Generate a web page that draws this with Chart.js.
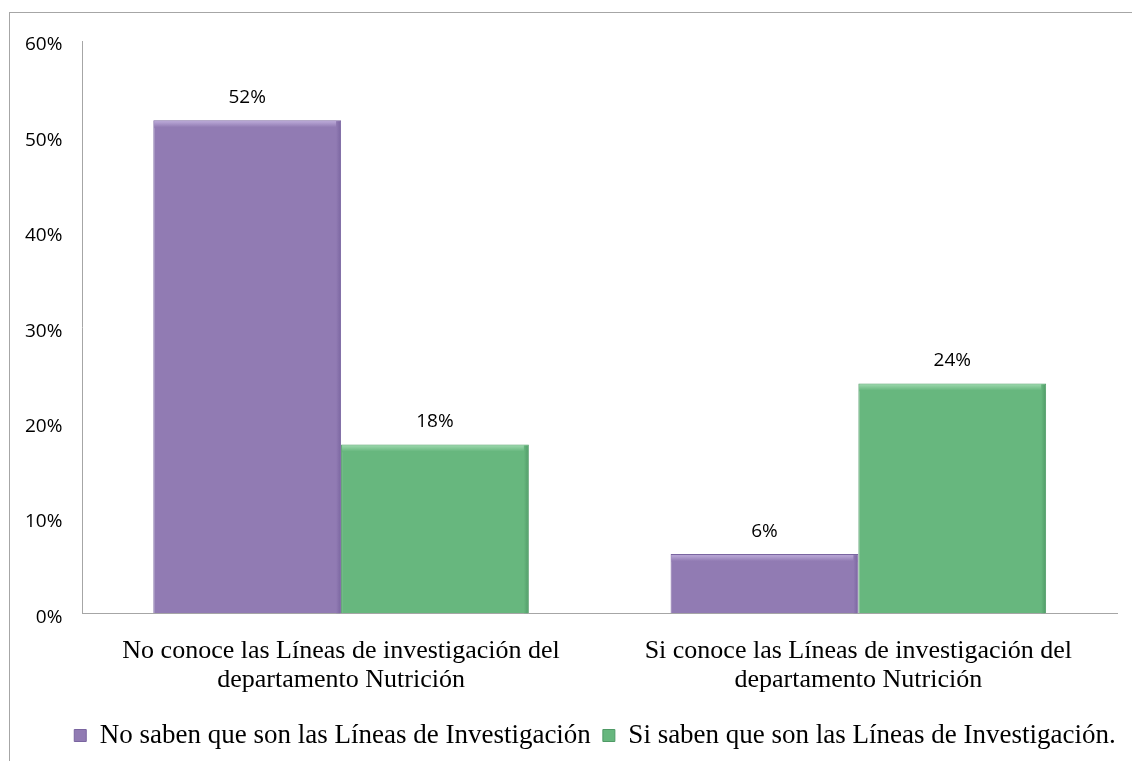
<!DOCTYPE html>
<html>
<head>
<meta charset="utf-8">
<script src="https://cdn.jsdelivr.net/npm/chart.js@4"></script>
<style>
  body { margin: 0; background: #fff; }
  .wrap { position: relative; width: 1132px; height: 761px; }
  .frame { position: absolute; left: 9px; top: 12px; width: 1140px; height: 800px;
           border-left: 1px solid #a6a6a6; border-top: 1px solid #a6a6a6; pointer-events: none; }
</style>
</head>
<body>
<div class="wrap">
  <canvas id="myChart" width="1132" height="761"></canvas>
  <div class="frame"></div>
</div>
<script>
const categories = [
    ['No conoce las Líneas de investigación del', 'departamento Nutrición'],
    ['Si conoce las Líneas de investigación del', 'departamento Nutrición']
];
const seriesNames = ['No saben que son las Líneas de Investigación', 'Si saben que son las Líneas de Investigación.'];
const noSaben = [51.7, 6.2];
const siSaben = [17.7, 24.1];
const yTicks = [0, 10, 20, 30, 40, 50, 60];

const fills = ['#917bb3', '#67b77e'];
const lights = ['#c2b1de', '#a3dcb3'];
const darks = ['#7a65a0', '#4f9a66'];

// bevel look: light strip on top, dark strip on the right
const bevel = {
    id: 'bevel',
    afterDatasetsDraw(chart) {
        const c = chart.ctx;
        c.save();
        chart.data.datasets.forEach(function(ds, i) {
            chart.getDatasetMeta(i).data.forEach(function(bar) {
                const left = bar.x - bar.width / 2;
                const h = bar.base - bar.y;
                let g = c.createLinearGradient(0, bar.y, 0, bar.y + 7);
                g.addColorStop(0, lights[i]);
                g.addColorStop(1, fills[i]);
                c.fillStyle = g;
                c.fillRect(left + 1, bar.y + 1, bar.width - 2, Math.min(7, h - 1));
                g = c.createLinearGradient(left + bar.width - 5, 0, left + bar.width, 0);
                g.addColorStop(0, fills[i]);
                g.addColorStop(1, darks[i]);
                c.fillStyle = g;
                c.fillRect(left + bar.width - 5, bar.y + 1, 4, h - 1);
            });
        });
        c.restore();
    }
};

// labels over the bars, no datalabels plugin here
const barLabels = {
    id: 'barLabels',
    afterDatasetsDraw(chart) {
        const c = chart.ctx;
        c.save();
        c.font = '19px "Open Sans"';
        c.fillStyle = '#000';
        c.textAlign = 'center';
        c.textBaseline = 'middle';
        chart.data.datasets.forEach(function(ds, i) {
            chart.getDatasetMeta(i).data.forEach(function(bar, j) {
                c.fillText(Math.round(ds.data[j]) + '%', bar.x, bar.y - 23);
            });
        });
        c.restore();
    }
};

// the legend sits a little right of centre in the original
const legendShift = {
    id: 'legendShift',
    afterLayout(chart) {
        chart.legend.left += 34;
        chart.legend.right += 34;
        chart.legend.top -= 8;
        chart.legend.bottom -= 8;
    }
};

let ctx = document.getElementById('myChart').getContext('2d');
let myChart = new Chart(ctx, {
    type: 'bar',
    data: {
        labels: categories,
        datasets: [{
            label: seriesNames[0],
            data: noSaben,
            backgroundColor: fills[0],
            borderColor: darks[0],
            borderWidth: 1
        }, {
            label: seriesNames[1],
            data: siSaben,
            backgroundColor: fills[1],
            borderColor: darks[1],
            borderWidth: 1
        }]
    },
    options: {
        responsive: false,
        animation: false,
        layout: { padding: { left: 5, right: 15, top: 41, bottom: -6 } },
        datasets: { bar: { categoryPercentage: 0.726, barPercentage: 1 } },
        scales: {
            x: {
                grid: { display: false, drawTicks: false },
                border: { color: '#a6a6a6' },
                ticks: {
                    padding: 23,
                    color: '#000',
                    font: { family: '"Liberation Serif"', size: 26, lineHeight: 1.13 }
                }
            },
            y: {
                min: 0,
                max: 60,
                afterBuildTicks(axis) { axis.ticks = yTicks.map(v => ({ value: v })); },
                grid: { display: false, drawTicks: false },
                border: { color: '#a6a6a6' },
                ticks: {
                    padding: 20,
                    labelOffset: 4,
                    color: '#000',
                    font: { family: '"Open Sans"', size: 19 },
                    callback: v => v + '%'
                }
            }
        },
        plugins: {
            tooltip: { enabled: false },
            legend: {
                position: 'bottom',
                labels: {
                    boxWidth: 12,
                    boxHeight: 12,
                    padding: 12,
                    color: '#000',
                    font: { family: '"Liberation Serif"', size: 27 }
                }
            }
        }
    },
    plugins: [bevel, barLabels, legendShift]
});
</script>
</body>
</html>
